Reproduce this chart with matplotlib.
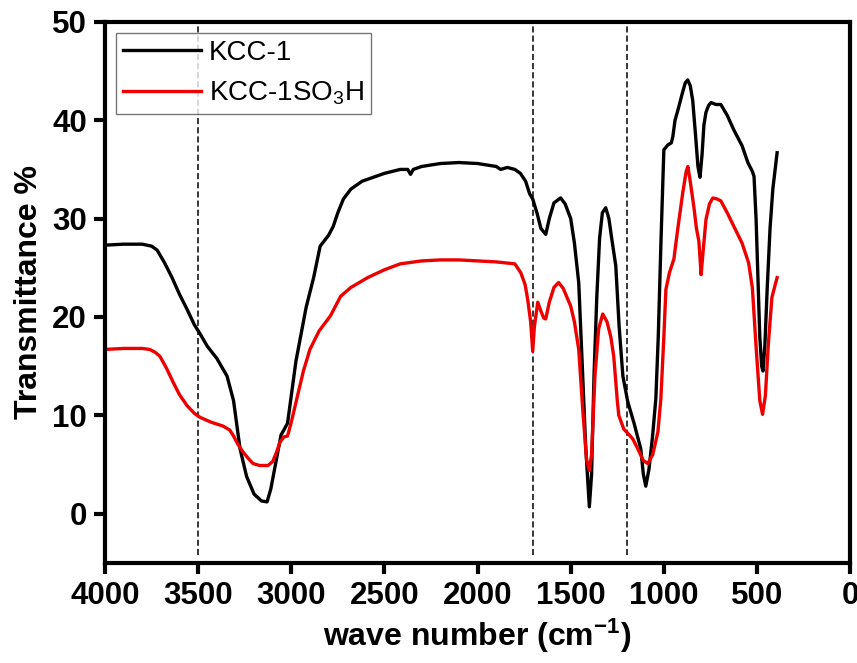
import numpy as np
import matplotlib.pyplot as plt

plt.rcParams['font.family'] = ['Liberation Sans', 'DejaVu Sans']
plt.rcParams['mathtext.fontset'] = 'custom'
plt.rcParams['mathtext.rm'] = 'Liberation Sans'
plt.rcParams['mathtext.it'] = 'Liberation Sans:italic'
plt.rcParams['mathtext.bf'] = 'Liberation Sans:bold'

# FTIR spectra: wave number (cm-1) and transmittance (%)
kcc_wn = [4000, 3900, 3800, 3750, 3720, 3680, 3640, 3600, 3560, 3520, 3490, 3450, 3400,
          3345, 3310, 3275, 3240, 3200, 3160, 3130, 3110, 3080, 3055, 3040, 3020, 3000,
          2975, 2950, 2920, 2880, 2845, 2800, 2775, 2750, 2720, 2680, 2620, 2590, 2500,
          2415, 2375, 2360, 2345, 2300, 2200, 2100, 2000, 1900, 1876, 1840, 1800, 1770,
          1742, 1720, 1704, 1680, 1660, 1634, 1615, 1590, 1554, 1530, 1500, 1480, 1457,
          1440, 1420, 1400, 1388, 1375, 1360, 1345, 1330, 1312, 1295, 1280, 1258, 1240,
          1220, 1194, 1160, 1124, 1110, 1097, 1080, 1060, 1043, 1030, 1015, 1000, 978,
          960, 952, 940, 925, 900, 885, 872, 858, 845, 830, 817, 806, 795, 785, 774, 760,
          747, 720, 694, 660, 624, 580, 549, 525, 516, 505, 495, 485, 475, 468, 458, 445,
          430, 415, 392]
kcc_t = [27.3, 27.4, 27.4, 27.2, 26.8, 25.5, 24.0, 22.3, 20.8, 19.2, 18.3, 17.0, 15.8,
         14.0, 11.5, 6.6, 3.8, 2.0, 1.3, 1.2, 2.5, 5.5, 8.0, 8.5, 9.2, 12.0,
         15.5, 18.0, 21.0, 24.0, 27.2, 28.3, 29.2, 30.6, 32.0, 33.0, 33.8, 34.0, 34.6,
         35.0, 35.0, 34.5, 35.0, 35.3, 35.6, 35.7, 35.6, 35.3, 35.0, 35.2, 35.0, 34.6,
         33.8, 32.5, 32.0, 30.5, 29.0, 28.4, 30.0, 31.6, 32.1, 31.5, 30.0, 27.5, 23.5,
         16.0, 7.0, 0.7, 4.0, 14.0, 22.0, 28.0, 30.6, 31.1, 30.0, 28.0, 25.2, 19.0,
         14.0, 11.4, 9.2, 6.6, 4.0, 2.8, 4.5, 8.0, 11.7, 18.0, 28.0, 37.0, 37.5,
         37.7, 38.3, 40.0, 41.0, 42.8, 43.8, 44.1, 43.5, 42.0, 38.5, 35.3, 34.2, 36.5, 39.5, 40.8, 41.5,
         41.8, 41.6, 41.6, 40.5, 39.0, 37.4, 35.7, 34.8, 34.3, 30.0, 24.0, 18.0, 15.0, 14.5, 17.0, 23.0,
         29.0, 33.0, 36.7]

so3h_wn = [4000, 3900, 3800, 3760, 3730, 3705, 3670, 3635, 3600, 3560, 3520, 3490, 3430,
           3365, 3330, 3310, 3285, 3260, 3230, 3205, 3170, 3125, 3100, 3080, 3060, 3040,
           3020, 3000, 2970, 2935, 2900, 2850, 2790, 2760, 2735, 2680, 2590, 2500, 2415,
           2300, 2200, 2100, 2000, 1900, 1800, 1768, 1745, 1731, 1715, 1704, 1695, 1677,
           1660, 1645, 1634, 1615, 1590, 1565, 1540, 1500, 1480, 1457, 1435, 1415, 1400,
           1388, 1370, 1350, 1328, 1305, 1285, 1269, 1250, 1242, 1215, 1190, 1167, 1140,
           1110, 1086, 1060, 1032, 1016, 1000, 989, 970, 946, 925, 898, 880, 871, 860, 839,
           825, 812, 800, 790, 774, 755, 737, 715, 694, 660, 624, 580, 545, 525, 505, 485,
           470, 455, 440, 420, 392]
so3h_t = [16.7, 16.8, 16.8, 16.7, 16.4, 16.0, 14.8, 13.4, 12.1, 11.0, 10.2, 9.8, 9.3,
          8.9, 8.5, 7.9, 7.0, 6.3, 5.6, 5.1, 4.9, 4.9, 5.3, 6.2, 7.3, 7.8,
          7.9, 9.3, 11.7, 14.5, 16.7, 18.6, 20.1, 21.2, 22.1, 23.0, 24.0, 24.8, 25.4,
          25.7, 25.8, 25.8, 25.7, 25.6, 25.4, 24.5, 23.3, 21.8, 19.5, 16.5, 19.0, 21.5,
          20.6, 19.9, 19.8, 21.5, 23.0, 23.5, 22.9, 21.1, 19.5, 16.7, 10.5, 5.5, 4.4,
          6.0, 14.0, 18.8, 20.3, 19.5, 18.0, 16.0, 11.5, 10.0, 8.6, 8.1, 7.6, 6.6,
          5.4, 5.1, 6.0, 8.3, 11.7, 18.0, 22.8, 24.5, 25.9, 29.0, 32.7, 34.8, 35.3, 34.0, 31.2,
          29.0, 27.7, 24.3, 26.5, 29.9, 31.5, 32.1, 32.0, 31.8, 30.6, 29.2, 27.5, 25.5, 23.0, 17.0, 11.5,
          10.1, 12.0, 17.0, 22.0, 24.0]

# marked bands
band_positions = [3500, 1700, 1200]

fig = plt.figure(figsize=(8.57, 6.63), dpi=100)
ax = fig.add_axes([0.1225, 0.151, 0.8695, 0.816])

ax.vlines(band_positions, -4.2, 49.6, colors='black', linestyles=(0, (4, 2)), linewidth=1.1)
ax.plot(kcc_wn, kcc_t, color='black', linewidth=2.4, label='KCC-1')
ax.plot(so3h_wn, so3h_t, color='#ee0000', linewidth=2.4, label='KCC-1SO$_3$H')

ax.set_xlim(4000, 0)
ax.set_ylim(-5, 50)
ax.set_xticks(np.arange(4000, -1, -500))
ax.set_yticks(np.arange(0, 51, 10))

for s in ax.spines.values():
    s.set_linewidth(3)
ax.tick_params(axis='both', which='major', direction='out', length=8, width=3, pad=5,
               labelsize=22.5, top=False, right=False)
for lbl in ax.get_xticklabels() + ax.get_yticklabels():
    lbl.set_fontweight('bold')

ax.set_xlabel(r'wave number (cm$^{\mathbf{-1}}$)', fontsize=23, fontweight='bold', labelpad=4)
ax.set_ylabel('Transmittance %', fontsize=23, fontweight='bold', labelpad=6)

leg = ax.legend(loc='upper left', fontsize=20, frameon=True, fancybox=False,
                handlelength=2.8, handletextpad=0.3, borderpad=0.25, labelspacing=0.5,
                borderaxespad=0.4, bbox_to_anchor=(0.0, 1.0))
leg.get_frame().set_edgecolor('#555555')
leg.get_frame().set_linewidth(1.0)

fig.savefig('out.png', dpi=100)
